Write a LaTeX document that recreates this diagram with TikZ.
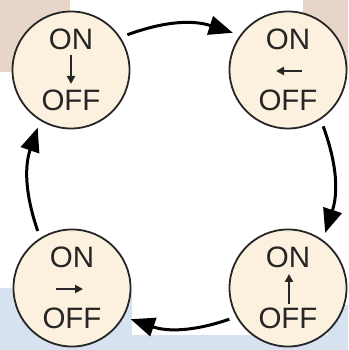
\documentclass[tikz,border=0pt]{standalone}
\usepackage{fontspec}
\setmainfont{Liberation Sans}
\usetikzlibrary{arrows.meta,calc}
\definecolor{tanbg}{HTML}{E6D5C8}
\definecolor{bluebg}{HTML}{D7E2F0}
\definecolor{discfill}{HTML}{FCF1DE}
\definecolor{ink}{HTML}{262626}
\tikzset{
  disc/.style={circle, draw=ink, line width=1.8pt, fill=discfill, minimum size=117pt, inner sep=0pt, outer sep=8pt},
  lbl/.style={font=\fontsize{29.5}{29.5}\selectfont, text=ink, inner sep=0pt},
  cyc/.style={line width=3pt, -{Triangle[length=24pt,width=19pt]}},
  mini/.style={line width=2.2pt, ink, -{Triangle[length=8pt,width=8pt]}}
}
\begin{document}
\begin{tikzpicture}[x=1pt,y=1pt]
\useasboundingbox (0,0) rectangle (348,350);
% backgrounds
\fill[tanbg] (0,278) rectangle (70,350);
\fill[tanbg] (303,280) rectangle (348,350);
\fill[bluebg] (0,0) rectangle (348,15);
\fill[bluebg] (0,0) rectangle (132,62);
\fill[bluebg] (328,0) rectangle (348,45);
% discs
\node[disc] (tl) at (71,280) {};
\node[disc] (tr) at (288,280) {};
\node[disc] (bl) at (72,62) {};
\node[disc] (br) at (288,62) {};
% labels
\foreach \n in {tl,tr,bl,br}{
  \node[lbl] (\n on) at ($(\n)+(0,31)$) {ON};
  \node[lbl] (\n off) at ($(\n)+(0,-30)$) {OFF};
}
% small arrows
\coordinate (tla) at ($(tl)+(0,15)$); \coordinate (tlb) at ($(tl)+(0,-14)$);
\draw[mini] (tla) -- (tlb);
\coordinate (tra) at ($(tr)+(14,-1)$); \coordinate (trb) at ($(tr)+(-12,-1)$);
\draw[mini] (tra) -- (trb);
\coordinate (bla) at ($(bl)+(-16,-1)$); \coordinate (blb) at ($(bl)+(11,-1)$);
\draw[mini] (bla) -- (blb);
\coordinate (bra) at ($(br)+(1,-16)$); \coordinate (brb) at ($(br)+(1,14)$);
\draw[mini] (bra) -- (brb);
% cycle arrows
\draw[cyc] (tl.32) to[bend left=19] (tr.146);
\draw[cyc] (tr.-58) to[bend left=19] (br.56);
\draw[cyc] (br.208) to[bend left=19] (bl.-28);
\draw[cyc] (bl.121) to[bend left=19] (tl.240);
\end{tikzpicture}
\end{document}
